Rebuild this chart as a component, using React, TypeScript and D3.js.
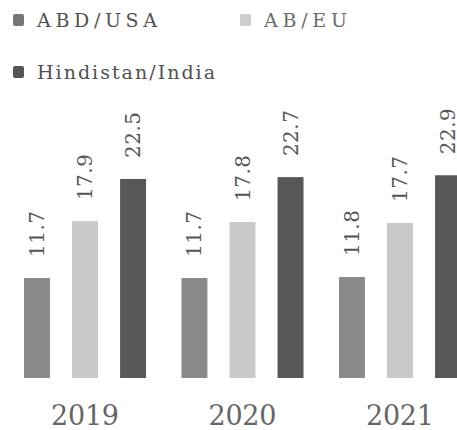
import React from "react";
import * as d3 from "d3";

const years = ["2019", "2020", "2021"];
const seriesNames = ["ABD/USA", "AB/EU", "Hindistan/India"];
const usaValues = [11.7, 11.7, 11.8];
const euValues = [17.9, 17.8, 17.7];
const indiaValues = [22.5, 22.7, 22.9];
const valueLabels = [
  ["11.7", "17.9", "22.5"],
  ["11.7", "17.8", "22.7"],
  ["11.8", "17.7", "22.9"],
];

const colors = ["#8a8a8a", "#c9c9c9", "#585858"];
const markerColors = ["#777777", "#cdcdcd", "#555555"];

const W = 457;
const H = 430;
const FONT = "'DejaVu Serif', 'Liberation Serif', serif";

export default function App() {
  const series = [usaValues, euValues, indiaValues];
  const x0 = d3.scaleBand<string>().domain(years).range([24, 461]).paddingInner(0.225).paddingOuter(0);
  const x1 = d3
    .scaleBand<string>()
    .domain(seriesNames)
    .range([0, x0.bandwidth()])
    .paddingInner(0.46)
    .paddingOuter(0);
  const y = d3.scaleLinear().domain([0, 25]).range([385.3, 156]);
  const baseY = 378;

  const legendPos = [
    { x: 13, y: 14, w: 120 },
    { x: 240, y: 14, w: 83 },
    { x: 13, y: 66, w: 178 },
  ];

  return (
    <svg
      width={W}
      height={H}
      style={{ position: "absolute", left: 0, top: 0, background: "#fff", fontFamily: FONT }}
    >
      <rect width={W} height={H} fill="#fff" />
      {seriesNames.map((name, i) => (
        <g key={name} transform={`translate(${legendPos[i].x},${legendPos[i].y})`}>
          <rect width={11} height={12} rx={2} fill={markerColors[i]} />
          <text
            x={24}
            y={13}
            textLength={legendPos[i].w}
            lengthAdjust="spacing"
            style={{ fontFamily: FONT, fontSize: 19 }}
            fill={i === 1 ? "#6a6a6a" : "#505050"}
          >
            {name}
          </text>
        </g>
      ))}
      {years.map((yr, gi) => (
        <g key={yr} transform={`translate(${x0(yr)},0)`}>
          {seriesNames.map((name, si) => {
            const v = series[si][gi];
            const bx = x1(name)!;
            const bw = x1.bandwidth();
            const top = y(v);
            const cx = bx + bw / 2;
            const ly = top - 21;
            return (
              <g key={name}>
                <rect x={bx} y={top} width={bw} height={baseY - top} fill={colors[si]} />
                <text
                  transform={`translate(${cx},${ly}) rotate(-90)`}
                  textAnchor="start"
                  dominantBaseline="central"
                  textLength={46}
                  lengthAdjust="spacing"
                  style={{ fontFamily: FONT, fontSize: 20 }}
                  fill="#555"
                >
                  {valueLabels[gi][si]}
                </text>
              </g>
            );
          })}
          <text
            x={x0.bandwidth() / 2 - 34}
            y={425}
            textLength={68}
            lengthAdjust="spacing"
            style={{ fontFamily: FONT, fontSize: 27 }}
            fill="#666"
          >
            {yr}
          </text>
        </g>
      ))}
    </svg>
  );
}
